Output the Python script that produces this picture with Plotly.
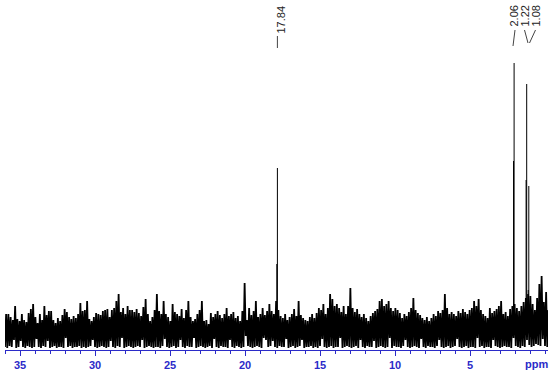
import plotly.graph_objects as go

# ---- data ----
# noise envelope, sampled every 0.15 ppm starting at 36.0 ppm (arbitrary intensity units)
noise_start_ppm = 36.0
noise_step_ppm = 0.15
noise_hi = [
    36, 36, 33, 30, 44, 31, 29, 36, 30, 28,
    37, 41, 46, 33, 27, 36, 30, 44, 35, 39,
    39, 30, 27, 32, 29, 35, 41, 38, 33, 31,
    34, 32, 36, 47, 39, 40, 49, 31, 29, 33,
    37, 36, 35, 39, 40, 41, 33, 40, 42, 49,
    56, 38, 42, 36, 44, 40, 40, 38, 41, 37,
    34, 43, 51, 36, 29, 33, 40, 56, 39, 36,
    49, 36, 33, 29, 46, 38, 36, 34, 41, 32,
    40, 49, 33, 29, 31, 36, 40, 49, 29, 30,
    26, 37, 33, 36, 39, 35, 32, 36, 42, 34,
    36, 38, 32, 34, 29, 39, 67, 30, 42, 35,
    39, 49, 33, 36, 42, 35, 39, 46, 39, 36,
    49, 40, 34, 32, 36, 30, 33, 36, 41, 34,
    49, 35, 32, 30, 29, 33, 36, 32, 37, 42,
    40, 46, 36, 42, 56, 51, 44, 46, 42, 38,
    44, 36, 44, 62, 42, 38, 41, 36, 33, 36,
    32, 29, 34, 37, 39, 41, 49, 51, 44, 46,
    49, 42, 39, 42, 40, 37, 32, 36, 34, 38,
    42, 52, 40, 37, 35, 32, 30, 33, 29, 32,
    36, 34, 39, 37, 40, 56, 42, 36, 38, 36,
    34, 39, 37, 41, 38, 36, 40, 42, 49, 44,
    51, 40, 36, 34, 32, 42, 37, 39, 41, 44,
    49, 36, 38, 34, 41, 44, 46, 42, 39, 44,
    48, 52, 56, 54, 46, 40, 52, 66, 74, 48,
    58, 40,
]
noise_lo = [
    3, 2, 4, 3, 10, 2, 3, 9, 3, 2,
    4, 3, 2, 3, 11, 3, 2, 4, 3, 9,
    2, 3, 4, 2, 3, 3, 2, 12, 3, 4,
    2, 3, 3, 4, 2, 3, 2, 3, 4, 10,
    3, 2, 3, 4, 3, 2, 3, 9, 3, 2,
    4, 3, 12, 2, 3, 4, 3, 2, 3, 4,
    3, 10, 2, 3, 4, 3, 2, 3, 3, 2,
    4, 11, 3, 2, 3, 4, 2, 3, 10, 3,
    2, 4, 3, 3, 12, 2, 3, 4, 3, 2,
    3, 4, 2, 11, 3, 2, 4, 3, 3, 2,
    10, 3, 2, 4, 3, 2, 3, 14, 4, 3,
    2, 3, 4, 3, 2, 12, 10, 3, 4, 9,
    3, 2, 4, 3, 3, 11, 2, 3, 4, 2,
    3, 4, 10, 2, 3, 3, 4, 2, 3, 2,
    4, 11, 3, 2, 3, 4, 2, 3, 3, 12,
    2, 3, 4, 3, 2, 3, 4, 2, 10, 3,
    2, 4, 3, 3, 9, 2, 3, 4, 3, 2,
    3, 12, 2, 4, 3, 3, 2, 4, 10, 3,
    2, 3, 4, 3, 2, 11, 3, 2, 4, 3,
    3, 2, 4, 10, 3, 2, 3, 4, 2, 3,
    4, 11, 3, 2, 3, 4, 2, 3, 3, 2,
    12, 3, 4, 2, 3, 3, 2, 10, 4, 3,
    2, 3, 4, 3, 3, 2, 12, 4, 3, 2,
    4, 3, 10, 5, 3, 4, 6, 5, 4, 11,
    4, 3,
]

peak_ppm = [17.84, 2.06, 1.22, 1.08]
peak_labels = ["17.84", "2.06", "1.22", "1.08"]
peak_height = [182, 287, 266, 164]
peak_inner = [86, 189, 170, 60]
peak_base = 20

tick_vals = [35, 30, 25, 20, 15, 10, 5]
tick_text = ["35", "30", "25", "20", "15", "10", "5"]

# ---- layout constants ----
W, H = 550, 373
ML, MR, MT, MB = 5, 2, 0, 23
X_RANGE = [36.0, -0.2]
Y_RANGE = [0, 350]
AXIS_BLUE = "#2b2bc8"
PX_PER_PPM = (W - ML - MR) / (X_RANGE[0] - X_RANGE[1])


def px_to_ppm(px):
    return X_RANGE[0] - (px - ML) / PX_PER_PPM


def ypx(py):
    # pixel row -> data value
    return Y_RANGE[1] - py


# ---- build noise trace ----
n = min(len(noise_hi), len(noise_lo))
nx, ny = [], []
for i in range(n):
    x0 = noise_start_ppm - noise_step_ppm * i
    nx += [x0, x0 - noise_step_ppm / 2]
    ny += [noise_lo[i], noise_hi[i]]

fig = go.Figure()
fig.add_trace(go.Scatter(x=nx, y=ny, mode="lines",
                         line=dict(color="black", width=1.8),
                         hoverinfo="skip", showlegend=False))

# ---- peaks ----
px_, py_ = [], []
for p, h, hi2 in zip(peak_ppm, peak_height, peak_inner):
    px_ += [p, p, None, p + 0.04, p + 0.04, None]
    py_ += [peak_base, h, None, peak_base, hi2, None]
fig.add_trace(go.Scatter(x=px_, y=py_, mode="lines",
                         line=dict(color="black", width=1),
                         hoverinfo="skip", showlegend=False))

# ---- peak labels and leader lines ----
label_px = [280.5, 513.5, 524.5, 535.5]        # label centre columns
label_mid_row = [20, 16, 16, 16]
leader_top_row = [36, 30, 30, 30]
leader_bot_row = [48, 46, 43, 43]
leader_bot_px = [None, 513.0, 528.0, 529.5]

for k, (p, lab) in enumerate(zip(peak_ppm, peak_labels)):
    fig.add_annotation(x=px_to_ppm(label_px[k]), y=ypx(label_mid_row[k]),
                       xref="x", yref="y", text=lab, showarrow=False,
                       textangle=-90, xanchor="center", yanchor="middle",
                       font=dict(family="Liberation Sans, Arial", size=11, color="#222222"))
    if k == 0:
        xa = xb = p
    else:
        xa = px_to_ppm(label_px[k] + (1.5 if k == 1 else 0))
        xb = px_to_ppm(leader_bot_px[k])
    fig.add_shape(type="line", xref="x", yref="y",
                  x0=xa, y0=ypx(leader_top_row[k]), x1=xb, y1=ypx(leader_bot_row[k]),
                  line=dict(color="#444444", width=1))

fig.add_annotation(x=(536 - ML) / (W - ML - MR), y=-(364 - 350) / 350,
                   xref="paper", yref="paper", text="ppm", showarrow=False,
                   xanchor="center", yanchor="middle",
                   font=dict(family="Liberation Sans, Arial", size=11, color=AXIS_BLUE, weight="bold"))

fig.update_xaxes(range=X_RANGE, showgrid=False, zeroline=False,
                 showline=True, linecolor=AXIS_BLUE, linewidth=1,
                 ticks="outside", ticklen=5, tickwidth=1, tickcolor=AXIS_BLUE,
                 tickmode="array", tickvals=tick_vals, ticktext=tick_text,
                 tickfont=dict(family="Liberation Sans, Arial", size=11, color=AXIS_BLUE, weight="bold"),
                 minor=dict(tickmode="linear", tick0=0, dtick=1, ticks="outside",
                            ticklen=3, tickcolor=AXIS_BLUE, showgrid=False))
fig.update_yaxes(range=Y_RANGE, visible=False, showgrid=False, zeroline=False)

fig.update_layout(width=W, height=H, margin=dict(l=ML, r=MR, t=MT, b=MB),
                  paper_bgcolor="white", plot_bgcolor="white", showlegend=False)

fig.write_html("out.html", config={"displayModeBar": False},
               post_script="document.body.style.margin='0';document.body.style.overflow='hidden';")
